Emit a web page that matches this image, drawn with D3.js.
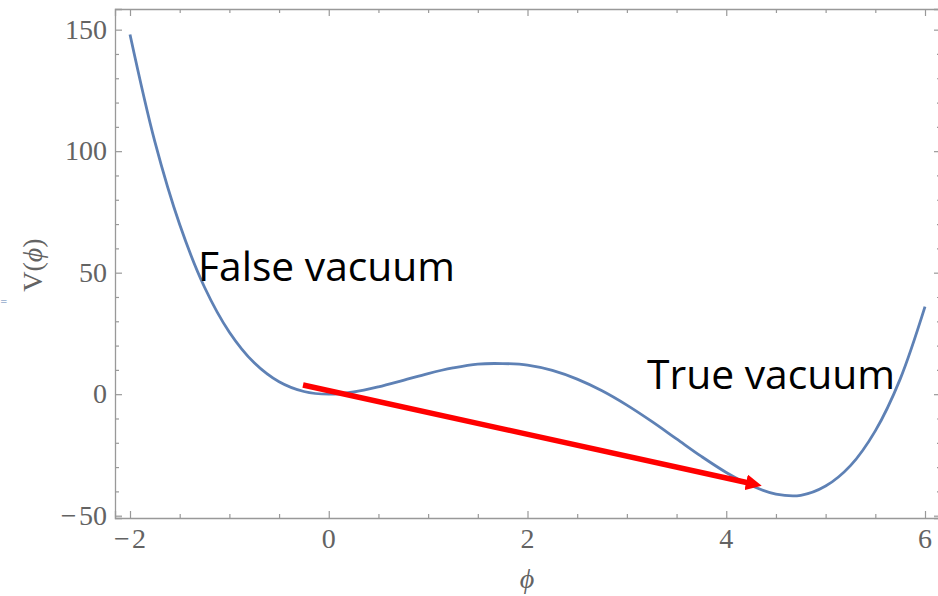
<!DOCTYPE html>
<html>
<head>
<meta charset="utf-8">
<script src="https://cdn.jsdelivr.net/npm/d3@7"></script>
<style>
  html, body { margin: 0; padding: 0; background: #fff; }
  svg { display: block; }
</style>
</head>
<body>
<svg id="chart" width="938" height="596"></svg>
<script>
// Potential V(phi) sampled along phi
const phiValues = [-2, -1.75, -1.5, -1.25, -1, -0.75, -0.5, -0.25, 0, 0.25, 0.5, 0.75, 1, 1.25, 1.5, 1.75,
  2, 2.25, 2.5, 2.75, 3, 3.25, 3.5, 3.75, 4, 4.25, 4.5, 4.75, 5, 5.25, 5.5, 5.75, 6];
const potentialValues = [148, 103.9, 69.8, 44.0, 25.5, 12.9, 5.1, 1.1, 0, 0.9, 3.0, 5.7, 8.5, 10.8, 12.4, 12.6,
  12.0, 9.8, 6.2, 1.4, -4.5, -11.2, -18.4, -25.6, -32.2, -37.6, -41.1, -41.6, -37.8, -29.4, -15.1, 6.2, 36];

// Axis ticks
const xMajorTicks = [-2, 0, 2, 4, 6];
const yMajorTicks = [-50, 0, 50, 100, 150];
const xMinorStep = 0.5;
const yMinorStep = 10;

// Annotations (data coordinates)
const labels = [
  { text: "False vacuum", phi: -1.316, v: 46.6 },
  { text: "True vacuum", phi: 3.203, v: 2.2 }
];
const transitionArrow = { from: [-0.259, 3.8], to: [4.357, -37.7] };

const svg = d3.select("#chart");
const frame = { left: 115, top: 9, right: 941, bottom: 518 };

const x = d3.scaleLinear().domain([-2.151, 6.161]).range([frame.left, frame.right]);
const y = d3.scaleLinear().domain([-50.95, 158.5]).range([frame.bottom, frame.top]);

const frameColor = "#999999";
const labelColor = "#636363";
const serif = "'Liberation Serif', 'DejaVu Serif', serif";
const fmt = v => v < 0 ? "\u2212\u200a" + Math.abs(v) : String(v);

// Minor tick positions
const xMinor = d3.range(-2, 6.0001, xMinorStep).filter(v => !xMajorTicks.includes(v));
const yMinor = d3.range(-50, 158, yMinorStep).filter(v => !yMajorTicks.includes(v));

// Frame: inward ticks on all four sides via d3 axes
function styleAxis(g) {
  g.selectAll("path.domain").attr("stroke", frameColor).attr("stroke-width", 1.3);
  g.selectAll(".tick line").attr("stroke", frameColor).attr("stroke-width", 1.2);
}

function frameSide(axisFn, scale, transform) {
  svg.append("g").attr("transform", transform)
    .call(axisFn(scale).tickValues(scale === x ? xMajorTicks : yMajorTicks).tickSize(-7).tickFormat(""))
    .call(styleAxis);
  svg.append("g").attr("transform", transform)
    .call(axisFn(scale).tickValues(scale === x ? xMinor : yMinor).tickSize(-4).tickFormat(""))
    .call(styleAxis)
    .select("path.domain").remove();
}

frameSide(d3.axisBottom, x, `translate(0,${frame.bottom})`);
frameSide(d3.axisTop, x, `translate(0,${frame.top})`);
frameSide(d3.axisLeft, y, `translate(${frame.left},0)`);
frameSide(d3.axisRight, y, `translate(${frame.right},0)`);

// Tick labels
svg.append("g").selectAll("text").data(xMajorTicks).join("text")
  .attr("x", d => x(d)).attr("y", 548)
  .attr("text-anchor", "middle")
  .attr("font-family", serif).attr("font-size", 28).attr("fill", labelColor)
  .text(fmt);

svg.append("g").selectAll("text").data(yMajorTicks).join("text")
  .attr("x", frame.left - 8).attr("y", d => y(d) + 9)
  .attr("text-anchor", "end")
  .attr("font-family", serif).attr("font-size", 28).attr("fill", labelColor)
  .text(fmt);

// Axis titles
svg.append("text")
  .attr("x", 527).attr("y", 588)
  .attr("text-anchor", "middle")
  .attr("font-family", serif).attr("font-size", 28).attr("font-style", "italic").attr("fill", labelColor)
  .text("\u03d5");

const yTitle = svg.append("text")
  .attr("transform", "translate(42,265) rotate(-90)")
  .attr("text-anchor", "middle")
  .attr("font-family", serif).attr("font-size", 28).attr("fill", labelColor);
yTitle.append("tspan").text("V(");
yTitle.append("tspan").attr("font-style", "italic").text("\u03d5");
yTitle.append("tspan").text(")");

// Small stray glyph at the far left edge
svg.append("text")
  .attr("x", 0).attr("y", 304)
  .attr("font-family", "'DejaVu Sans', sans-serif").attr("font-size", 9).attr("fill", "#5E81B5")
  .text("=");

// Potential curve
const points = phiValues.map((p, i) => [p, potentialValues[i]]);
const line = d3.line()
  .x(d => x(d[0])).y(d => y(d[1]))
  .curve(d3.curveCatmullRom.alpha(0.5));

svg.append("path")
  .datum(points)
  .attr("d", line)
  .attr("fill", "none")
  .attr("stroke", "#5E81B5")
  .attr("stroke-width", 2.8)
  .attr("stroke-linejoin", "round");

// Transition arrow
svg.append("defs").append("marker")
  .attr("id", "arrowHead")
  .attr("viewBox", "0 0 16 16")
  .attr("refX", 16).attr("refY", 8)
  .attr("markerWidth", 16).attr("markerHeight", 16)
  .attr("markerUnits", "userSpaceOnUse")
  .attr("orient", "auto")
  .append("path")
  .attr("d", "M0,0 L16,8 L0,16 Z")
  .attr("fill", "#ff0000");

const [ax0, ay0] = [x(transitionArrow.from[0]), y(transitionArrow.from[1])];
const [ax1, ay1] = [x(transitionArrow.to[0]), y(transitionArrow.to[1])];
const ang = Math.atan2(ay1 - ay0, ax1 - ax0);
svg.append("line")
  .attr("x1", ax0).attr("y1", ay0)
  .attr("x2", ax1 - 12 * Math.cos(ang)).attr("y2", ay1 - 12 * Math.sin(ang))
  .attr("stroke", "#ff0000").attr("stroke-width", 5.5);
svg.append("line")
  .attr("x1", ax1 - 14 * Math.cos(ang)).attr("y1", ay1 - 14 * Math.sin(ang))
  .attr("x2", ax1).attr("y2", ay1)
  .attr("stroke", "none")
  .attr("marker-end", "url(#arrowHead)");

// Region labels
const lengths = { "False vacuum": 257, "True vacuum": 248 };
svg.append("g").selectAll("text").data(labels).join("text")
  .attr("x", d => x(d.phi)).attr("y", d => y(d.v))
  .attr("font-family", "'Open Sans', 'Noto Sans', sans-serif")
  .attr("font-size", 41)
  .attr("fill", "#000")
  .attr("textLength", d => lengths[d.text])
  .attr("lengthAdjust", "spacingAndGlyphs")
  .text(d => d.text);
</script>
</body>
</html>
